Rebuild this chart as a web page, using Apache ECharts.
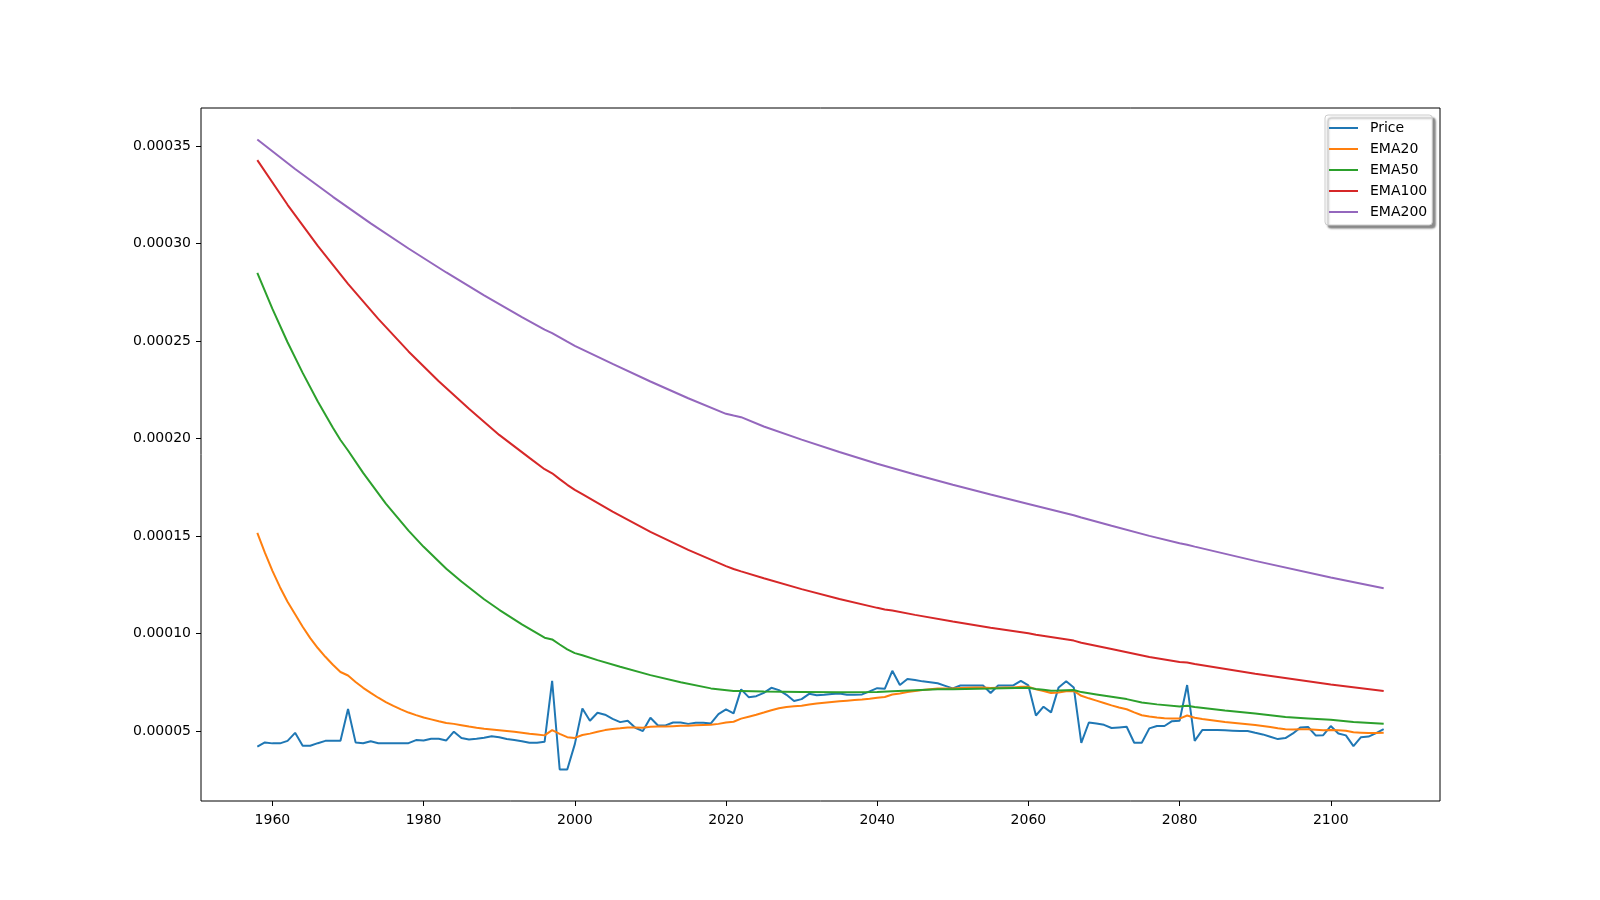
<!DOCTYPE html>
<html>
<head>
<meta charset="utf-8">
<script src="https://cdn.jsdelivr.net/npm/echarts@6/dist/echarts.min.js"></script>
<style>html,body{margin:0;padding:0;background:#fff}#c{width:1600px;height:900px}</style>
</head>
<body>
<div id="c"></div>
<script>
// values are in units of 1e-5
const SCALE = 1e-5;
const startYear = 1958;

const price = [
  4.20, 4.42,
  4.37, 4.37, 4.50, 4.91, 4.25, 4.25, 4.38, 4.50, 4.50, 4.50,
  6.13, 4.42, 4.38, 4.48, 4.38, 4.38, 4.38, 4.38, 4.38, 4.54,
  4.52, 4.61, 4.61, 4.52, 4.97, 4.64, 4.57, 4.61, 4.66, 4.73,
  4.68, 4.59, 4.54, 4.48, 4.40, 4.40, 4.45, 7.58, 3.03, 3.03,
  4.33, 6.16, 5.53, 5.94, 5.84, 5.63, 5.46, 5.53, 5.17, 5.00,
  5.68, 5.29, 5.29, 5.44, 5.44, 5.37, 5.43, 5.43, 5.39, 5.87,
  6.11, 5.91, 7.14, 6.74, 6.79, 6.96, 7.22, 7.10, 6.86, 6.54,
  6.64, 6.91, 6.84, 6.86, 6.90, 6.93, 6.86, 6.86, 6.88, 7.04,
  7.20, 7.17, 8.09, 7.36, 7.67, 7.62, 7.55, 7.50, 7.45, 7.32,
  7.19, 7.34, 7.34, 7.34, 7.34, 6.95, 7.34, 7.34, 7.34, 7.58,
  7.34, 5.80, 6.25, 5.96, 7.24, 7.56, 7.24, 4.40, 5.44, 5.39,
  5.32, 5.16, 5.19, 5.22, 4.40, 4.40, 5.14, 5.26, 5.26, 5.51,
  5.53, 7.36, 4.50, 5.05, 5.05, 5.05, 5.04, 5.02, 5.00, 5.00,
  4.91, 4.83, 4.71, 4.59, 4.64, 4.88, 5.19, 5.21, 4.78, 4.79,
  5.26, 4.88, 4.78, 4.23, 4.69, 4.72, 4.90, 5.10
];

const ema20 = [
  15.17, 14.15,
  13.22, 12.38, 11.63, 10.99, 10.35, 9.77, 9.26, 8.81, 8.40, 8.03,
  7.85, 7.52, 7.22, 6.96, 6.71, 6.49, 6.29, 6.11, 5.95, 5.82,
  5.70, 5.60, 5.50, 5.41, 5.37, 5.30, 5.23, 5.17, 5.12, 5.08,
  5.04, 5.00, 4.96, 4.91, 4.86, 4.82, 4.78, 5.05, 4.86, 4.69,
  4.65, 4.80, 4.87, 4.97, 5.05, 5.11, 5.14, 5.18, 5.18, 5.17,
  5.22, 5.23, 5.23, 5.25, 5.27, 5.28, 5.30, 5.31, 5.32, 5.37,
  5.44, 5.48, 5.64, 5.74, 5.84, 5.95, 6.07, 6.17, 6.24, 6.27,
  6.30, 6.36, 6.41, 6.45, 6.49, 6.53, 6.56, 6.59, 6.62, 6.66,
  6.71, 6.75, 6.88, 6.93, 7.00, 7.06, 7.11, 7.15, 7.18, 7.19,
  7.19, 7.21, 7.22, 7.23, 7.24, 7.21, 7.22, 7.23, 7.24, 7.27,
  7.28, 7.14, 7.06, 6.95, 6.98, 7.04, 7.06, 6.81, 6.68, 6.56,
  6.44, 6.32, 6.21, 6.12, 5.96, 5.81, 5.75, 5.70, 5.66, 5.65,
  5.64, 5.80, 5.68, 5.62, 5.57, 5.52, 5.47, 5.43, 5.39, 5.35,
  5.31, 5.26, 5.21, 5.15, 5.10, 5.08, 5.09, 5.10, 5.07, 5.04,
  5.06, 5.04, 5.02, 4.94, 4.92, 4.90, 4.90, 4.92
];

const ema50 = [
  [1958, 28.50], [1960, 26.65], [1962, 24.94], [1964, 23.37], [1966, 21.90],
  [1968, 20.56], [1969, 19.93], [1970, 19.39], [1972, 18.24], [1975, 16.67],
  [1978, 15.28], [1980, 14.45], [1983, 13.33], [1985, 12.67], [1988, 11.76],
  [1990, 11.22], [1993, 10.47], [1996, 9.79], [1997, 9.70], [1998, 9.44],
  [1999, 9.19], [2000, 9.00], [2001, 8.89], [2003, 8.64], [2006, 8.30],
  [2010, 7.87], [2014, 7.50], [2018, 7.19], [2021, 7.05], [2022, 7.05],
  [2025, 7.03], [2030, 7.01], [2035, 6.99], [2040, 7.00], [2042, 7.04],
  [2045, 7.09], [2048, 7.14], [2050, 7.15], [2055, 7.18], [2060, 7.22],
  [2061, 7.16], [2062, 7.12], [2063, 7.07], [2064, 7.08], [2065, 7.10],
  [2066, 7.11], [2067, 7.00], [2069, 6.88], [2071, 6.76], [2073, 6.64],
  [2075, 6.47], [2077, 6.37], [2080, 6.26], [2081, 6.30], [2082, 6.23],
  [2086, 6.06], [2090, 5.90], [2094, 5.72], [2097, 5.65], [2100, 5.58],
  [2103, 5.47], [2107, 5.38]
];

const ema100 = [
  [1958, 34.28], [1962, 31.99], [1966, 29.88], [1970, 27.94], [1974, 26.14],
  [1978, 24.47], [1982, 22.94], [1986, 21.53], [1990, 20.19], [1994, 19.01],
  [1996, 18.43], [1997, 18.22], [1998, 17.92], [1999, 17.63], [2000, 17.37],
  [2001, 17.15], [2005, 16.25], [2010, 15.22], [2015, 14.29], [2020, 13.46],
  [2021, 13.31], [2022, 13.19], [2025, 12.84], [2030, 12.28], [2035, 11.77],
  [2040, 11.32], [2041, 11.24], [2042, 11.18], [2045, 10.96], [2050, 10.62],
  [2055, 10.30], [2060, 10.02], [2061, 9.94], [2066, 9.64], [2067, 9.53],
  [2071, 9.21], [2076, 8.80], [2080, 8.54], [2081, 8.52], [2082, 8.44],
  [2090, 7.94], [2100, 7.39], [2107, 7.05]
];

const ema200 = [
  [1958, 35.34], [1963, 33.83], [1968, 32.40], [1973, 31.04], [1978, 29.75],
  [1983, 28.52], [1988, 27.35], [1993, 26.23], [1996, 25.59], [1997, 25.41],
  [1998, 25.19], [1999, 24.97], [2000, 24.76], [2005, 23.83], [2010, 22.93],
  [2015, 22.07], [2020, 21.27], [2021, 21.18], [2022, 21.10], [2025, 20.62],
  [2030, 19.95], [2035, 19.31], [2040, 18.71], [2045, 18.16], [2050, 17.63],
  [2055, 17.13], [2060, 16.65], [2066, 16.07], [2067, 15.95], [2071, 15.53],
  [2076, 15.01], [2080, 14.63], [2081, 14.56], [2082, 14.46], [2090, 13.73],
  [2100, 12.88], [2107, 12.33]
];

const xTicks = [1960, 1980, 2000, 2020, 2040, 2060, 2080, 2100];
const yTicks = [0.00005, 0.00010, 0.00015, 0.00020, 0.00025, 0.00030, 0.00035];
const seriesNames = ['Price', 'EMA20', 'EMA50', 'EMA100', 'EMA200'];
const colors = ['#1f77b4', '#ff7f0e', '#2ca02c', '#d62728', '#9467bd'];

const years = price.map((_, i) => startYear + i);
const yearly = arr => arr.map((v, i) => [years[i], v * SCALE]);
const sparse = arr => arr.map(p => [p[0], p[1] * SCALE]);

const seriesData = [yearly(price), yearly(ema20), sparse(ema50), sparse(ema100), sparse(ema200)];

const font = 'DejaVu Sans';
const chart = echarts.init(document.getElementById('c'), null, {renderer: 'canvas'});
chart.setOption({
  animation: false,
  backgroundColor: '#ffffff',
  color: colors,
  grid: {
    left: 201, right: 160, top: 108, bottom: 99,
    show: true, borderColor: '#000', borderWidth: 1, backgroundColor: 'transparent'
  },
  xAxis: {
    type: 'value', min: 1950.55, max: 2114.45,
    axisLine: {show: false},
    splitLine: {show: false},
    axisTick: {show: true, inside: false, length: 5, customValues: xTicks, lineStyle: {color: '#000', width: 1}},
    axisLabel: {customValues: xTicks, margin: 12, color: '#000', fontSize: 14, fontFamily: font,
      formatter: v => String(Math.round(v))}
  },
  yAxis: {
    type: 'value', min: 0.000014145, max: 0.00036955,
    axisLine: {show: false},
    splitLine: {show: false},
    axisTick: {show: true, inside: false, length: 5, customValues: yTicks, lineStyle: {color: '#000', width: 1}},
    axisLabel: {customValues: yTicks, margin: 10, color: '#000', fontSize: 14, fontFamily: font,
      formatter: v => v.toFixed(5)}
  },
  legend: {
    orient: 'vertical', left: 1325, top: 115,
    padding: [6, 5, 6, 4],
    icon: 'rect',
    itemWidth: 29, itemHeight: 2, itemGap: 7,
    selectedMode: false,
    backgroundColor: '#ffffff', borderColor: '#cccccc', borderWidth: 1, borderRadius: 3,
    shadowColor: 'rgba(0,0,0,0.45)', shadowBlur: 2, shadowOffsetX: 3, shadowOffsetY: 3,
    textStyle: {fontFamily: font, fontSize: 14, color: '#000', padding: [0, 0, 0, 7], lineHeight: 14},
    data: seriesNames
  },
  series: seriesNames.map((name, i) => ({
    name: name,
    type: 'line',
    data: seriesData[i],
    symbol: 'none',
    showSymbol: false,
    smooth: false,
    lineStyle: {width: 2, color: colors[i]},
    itemStyle: {color: colors[i]},
    z: 2 + i
  }))
});
</script>
</body>
</html>
